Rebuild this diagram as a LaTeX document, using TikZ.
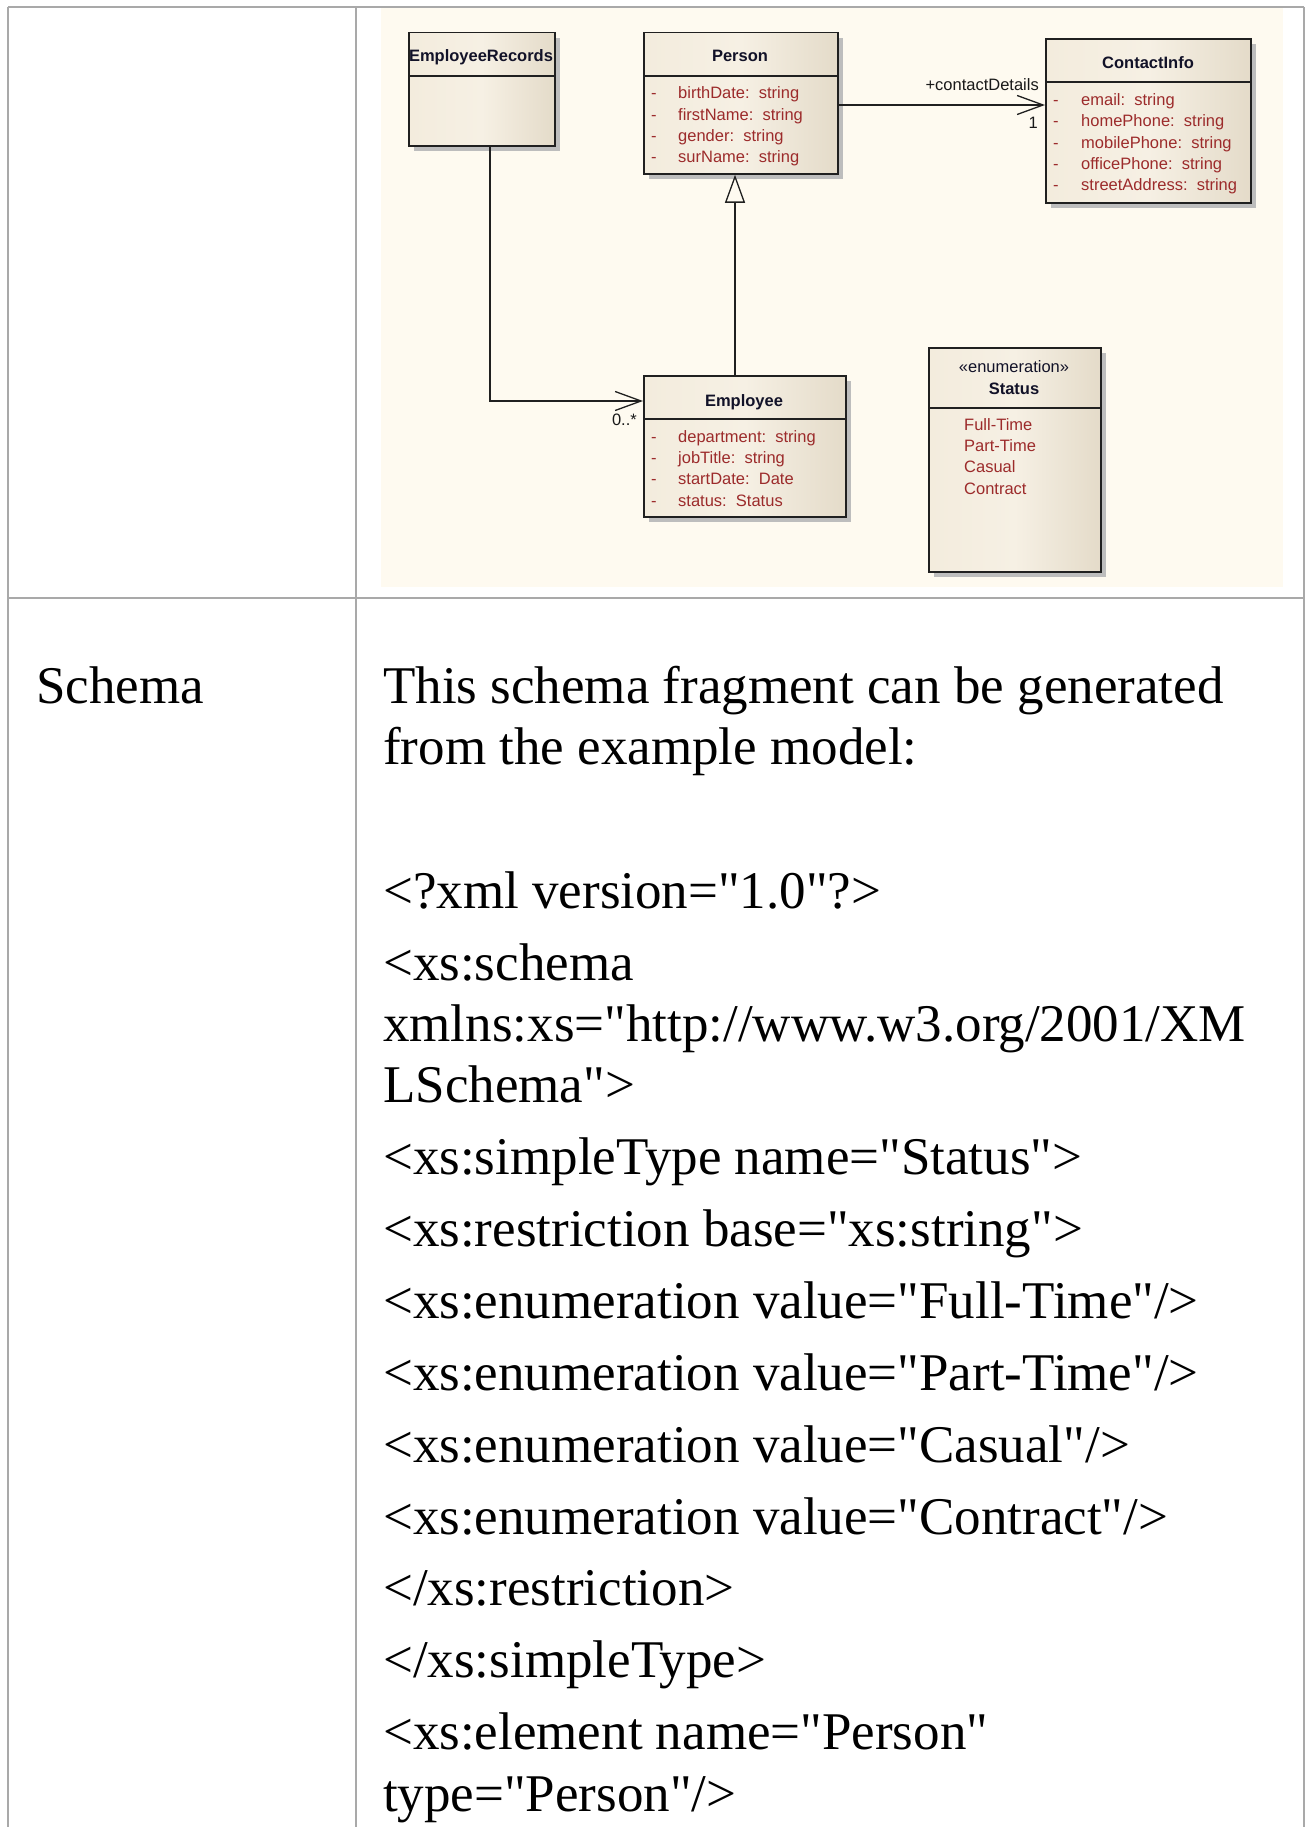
\documentclass[tikz,border=0pt]{standalone}
\usepackage{fontspec}
\newfontfamily\bodyfont{Liberation Serif}
\newfontfamily\umlfont{Liberation Sans}
\usetikzlibrary{arrows.meta,shadows,calc}
\definecolor{gridgray}{HTML}{A9A9A9}
\definecolor{diagbg}{HTML}{FEFAF0}
\definecolor{boxA}{HTML}{F3ECDD}
\definecolor{boxB}{HTML}{F6F0E4}
\definecolor{boxC}{HTML}{E4DBC9}
\definecolor{attrred}{HTML}{9C2B2B}
\definecolor{titleink}{HTML}{121228}
\definecolor{shadowgray}{HTML}{BDBDBD}
\definecolor{boxline}{HTML}{202020}
\begin{document}
\begin{tikzpicture}[x=1pt,y=-1pt,
  umlbox/.style={draw=boxline, line width=1.8pt, inner sep=0pt, anchor=north west,
    left color=boxA, right color=boxC, middle color=boxB,
    drop shadow={shadow xshift=5pt, shadow yshift=-5pt, opacity=1, fill=shadowgray}},
  hdr/.style={draw=boxline, line width=1.8pt},
  umlfnt/.style={font=\umlfont\fontsize{16.5}{19}\selectfont, inner sep=0pt},
  ttl/.style={umlfnt, font=\umlfont\bfseries\fontsize{16.5}{19}\selectfont, text=titleink, anchor=base},
  attr/.style={umlfnt, text=attrred, anchor=base west},
  lbl/.style={umlfnt, text=black!90},
  conn/.style={draw=boxline, line width=1.3pt},
  gridline/.style={draw=gridgray, line width=1.5pt},
  big/.style={font=\bodyfont\fontsize{53}{61}\selectfont, inner sep=0pt, anchor=base west, text=black}
]
\useasboundingbox (0,0) rectangle (1305,1827);
\fill[white] (0,0) rectangle (1305,1827);

% table grid
\draw[gridline] (8,7) -- (1304,7);
\draw[gridline] (8,7) -- (8,1827);
\draw[gridline] (356,7) -- (356,1827);
\draw[gridline] (1304,7) -- (1304,1827);
\draw[gridline] (8,598) -- (1304,598);

% diagram background
\fill[diagbg] (381,8.5) rectangle (1283,587);

% helper coordinates
\coordinate (yassoc) at (0,105);

% boxes
\node[umlbox, minimum width=146pt, minimum height=113.3pt] (er) at (408,31.7) {};
\draw[hdr] (er.west |- 0,76) -- (er.east |- 0,76);
\node[ttl] (ert) at (481,62) {EmployeeRecords};

\node[umlbox, minimum width=194pt, minimum height=141.3pt] (person) at (643,31.7) {};
\draw[hdr] (person.west |- 0,76) -- (person.east |- 0,76);
\node[ttl] (pt) at (740,62) {Person};
\node[attr] (pd1) at (651,99) {-};
\node[attr] (pa1) at (678,99) {birthDate:\ \ string};
\node[attr] (pd2) at (651,120.3) {-};
\node[attr] (pa2) at (678,120.3) {firstName:\ \ string};
\node[attr] (pd3) at (651,141.7) {-};
\node[attr] (pa3) at (678,141.7) {gender:\ \ string};
\node[attr] (pd4) at (651,163) {-};
\node[attr] (pa4) at (678,163) {surName:\ \ string};

\node[umlbox, minimum width=205pt, minimum height=164pt] (contact) at (1045,38) {};
\draw[hdr] (contact.west |- 0,82) -- (contact.east |- 0,82);
\node[ttl] (ct) at (1148,68.3) {ContactInfo};
\node[attr] (cd1) at (1053,105.7) {-};
\node[attr] (ca1) at (1081,105.7) {email:\ \ string};
\node[attr] (cd2) at (1053,127) {-};
\node[attr] (ca2) at (1081,127) {homePhone:\ \ string};
\node[attr] (cd3) at (1053,148.3) {-};
\node[attr] (ca3) at (1081,148.3) {mobilePhone:\ \ string};
\node[attr] (cd4) at (1053,169.7) {-};
\node[attr] (ca4) at (1081,169.7) {officePhone:\ \ string};
\node[attr] (cd5) at (1053,191) {-};
\node[attr] (ca5) at (1081,191) {streetAddress:\ \ string};

\node[umlbox, minimum width=202pt, minimum height=141pt] (emp) at (643,375) {};
\draw[hdr] (emp.west |- 0,419) -- (emp.east |- 0,419);
\node[ttl] (et) at (744,406) {Employee};
\node[attr] (ed1) at (651,442) {-};
\node[attr] (ea1) at (678,442) {department:\ \ string};
\node[attr] (ed2) at (651,463.3) {-};
\node[attr] (ea2) at (678,463.3) {jobTitle:\ \ string};
\node[attr] (ed3) at (651,484.7) {-};
\node[attr] (ea3) at (678,484.7) {startDate:\ \ Date};
\node[attr] (ed4) at (651,506) {-};
\node[attr] (ea4) at (678,506) {status:\ \ Status};

\node[umlbox, minimum width=172pt, minimum height=224pt] (status) at (928,347) {};
\draw[hdr] (status.west |- 0,408) -- (status.east |- 0,408);
\node[umlfnt, text=titleink, anchor=base] (st1) at (1014,372.7) {«enumeration»};
\node[ttl] (st2) at (1014,394.3) {Status};
\node[attr] (sv1) at (964,430) {Full-Time};
\node[attr] (sv2) at (964,451.3) {Part-Time};
\node[attr] (sv3) at (964,472.7) {Casual};
\node[attr] (sv4) at (964,494) {Contract};

% connectors
\draw[conn, -{Straight Barb[length=26pt,width=19pt]}] ([xshift=82pt]er.south west) |- ([yshift=-26pt]emp.north west);
\node[lbl, anchor=base east] (mult0) at (637,425) {0..*};

\draw[conn, -{Triangle[open, length=28pt, width=20pt, fill=diagbg]}] ([xshift=92pt]emp.north west) -- ([xshift=92pt]person.south west);

\draw[conn, -{Straight Barb[length=26pt,width=19pt]}] (person.east |- yassoc) -- (contact.west |- yassoc);
\node[lbl, anchor=base east] (rolel) at (1039,90.7) {+contactDetails};
\node[lbl, anchor=base east] (mult1) at (1038,128.3) {1};

% lower row text
\node[big] (lefthead) at (36,703) {Schema};
\node[big] (t1) at (383,703) {This schema fragment can be generated};
\node[big] (t2) at (383,764.3) {from the example model:};
\node[big] (t3) at (383,908.1) {<?xml version="1.0"?>};
\node[big] (t4) at (383,980) {<xs:schema};
\node[big] (t5) at (383,1041.3) {xmlns:xs="http://www.w3.org/2001/XM};
\node[big] (t6) at (383,1102.6) {LSchema">};
\node[big] (t7) at (383,1174.5) {<xs:simpleType name="Status">};
\node[big] (t8) at (383,1246.4) {<xs:restriction base="xs:string">};
\node[big] (t9) at (383,1318.3) {<xs:enumeration value="Full-Time"/>};
\node[big] (t10) at (383,1390.2) {<xs:enumeration value="Part-Time"/>};
\node[big] (t11) at (383,1462.1) {<xs:enumeration value="Casual"/>};
\node[big] (t12) at (383,1534) {<xs:enumeration value="Contract"/>};
\node[big] (t13) at (383,1605.9) {</xs:restriction>};
\node[big] (t14) at (383,1677.8) {</xs:simpleType>};
\node[big] (t15) at (383,1749.7) {<xs:element name="Person"};
\node[big] (t16) at (383,1811) {type="Person"/>};
\end{tikzpicture}
\end{document}
